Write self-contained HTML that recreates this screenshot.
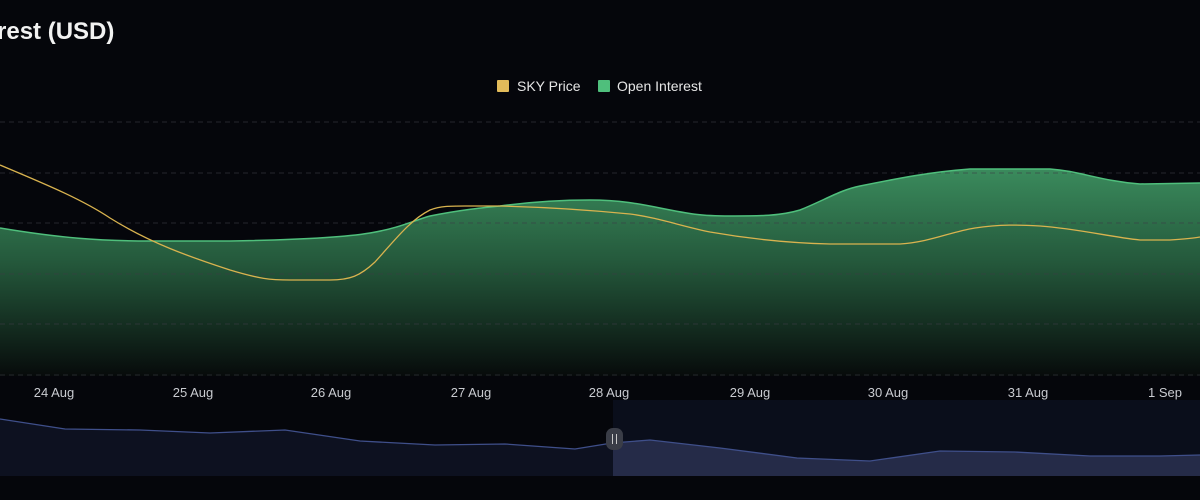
<!DOCTYPE html>
<html><head><meta charset="utf-8"><style>
html,body{margin:0;padding:0;background:#05060b;width:1200px;height:500px;overflow:hidden}
svg{display:block}
</style></head><body>
<svg width="1200" height="500" viewBox="0 0 1200 500" xmlns="http://www.w3.org/2000/svg" font-family="Liberation Sans, sans-serif">
<defs>
<linearGradient id="ga" gradientUnits="userSpaceOnUse" x1="0" y1="170" x2="0" y2="376">
<stop offset="0" stop-color="#3a8a5c"/>
<stop offset="0.45" stop-color="#24583b"/>
<stop offset="1" stop-color="#070b0b"/>
</linearGradient>
</defs>
<rect width="1200" height="500" fill="#05060b"/>
<text x="-3" y="39" fill="#f2f2f2" font-size="24" font-weight="bold">rest (USD)</text>
<rect x="497" y="80" width="12" height="12" fill="#e2bb5a" rx="1"/>
<text x="517" y="91" fill="#e6e6e6" font-size="14">SKY Price</text>
<rect x="598" y="80" width="12" height="12" fill="#4fbf7c" rx="1"/>
<text x="617" y="91" fill="#e6e6e6" font-size="14">Open Interest</text>
<path d="M0,228 C60,238 100,241 150,241 L230,241 C290,240 340,238 370,233 C400,228 415,220 430,216 C460,210 480,208 500,206 C530,202 560,200 590,200 C620,200 640,204 660,208 C690,214 700,216 730,216 C760,216 780,216 800,210 C825,200 840,190 860,186 C900,178 930,172 970,169 L1050,169 C1080,171 1100,181 1140,184 L1200,183 L1200,376 L0,376 Z" fill="url(#ga)"/>
<g stroke="#3a3c44" stroke-opacity="0.6" stroke-width="1" stroke-dasharray="5,4">
<line x1="0" y1="122" x2="1200" y2="122"/>
<line x1="0" y1="173" x2="1200" y2="173"/>
<line x1="0" y1="223" x2="1200" y2="223"/>
<line x1="0" y1="274" x2="1200" y2="274"/>
<line x1="0" y1="324" x2="1200" y2="324"/>
<line x1="0" y1="375" x2="1200" y2="375"/>
</g>
<path d="M0,228 C60,238 100,241 150,241 L230,241 C290,240 340,238 370,233 C400,228 415,220 430,216 C460,210 480,208 500,206 C530,202 560,200 590,200 C620,200 640,204 660,208 C690,214 700,216 730,216 C760,216 780,216 800,210 C825,200 840,190 860,186 C900,178 930,172 970,169 L1050,169 C1080,171 1100,181 1140,184 L1200,183" fill="none" stroke="#4fbf7c" stroke-width="1.5"/>
<path d="M0,165 C40,182 80,198 110,218 C150,243 190,257 230,270 C260,279 270,280 290,280 L330,280 C350,280 360,276 375,262 C395,240 410,220 430,210 C440,206 450,206 465,206 L500,206 C540,207 590,210 630,214 C660,218 680,226 710,232 C750,239 790,243 830,244 L900,244 C930,242 950,232 975,228 C1000,224 1020,225 1040,226 C1080,229 1110,237 1140,240 L1170,240 C1185,239 1195,238 1200,237" fill="none" stroke="#d9b34f" stroke-width="1.3"/>
<g fill="#c9cbd0" font-size="13" text-anchor="middle">
<text x="54" y="397">24 Aug</text><text x="193" y="397">25 Aug</text><text x="331" y="397">26 Aug</text>
<text x="471" y="397">27 Aug</text><text x="609" y="397">28 Aug</text><text x="750" y="397">29 Aug</text>
<text x="888" y="397">30 Aug</text><text x="1028" y="397">31 Aug</text><text x="1165" y="397">1 Sep</text>
</g>
<rect x="613" y="400" width="587" height="76" fill="#0a0e1b"/>
<clipPath id="L"><rect x="0" y="400" width="613" height="76"/></clipPath>
<clipPath id="R"><rect x="613" y="400" width="587" height="76"/></clipPath>
<path d="M0,419 L65,429 L140,430 L210,433 L285,430 L360,441 L435,445 L505,444 L575,449 L612,443 L650,440 L720,448 L797,458 L870,461 L940,451 L1015,452 L1090,456 L1160,456 L1200,455 L1200,476 L0,476 Z" fill="#0d1120" clip-path="url(#L)"/>
<path d="M0,419 L65,429 L140,430 L210,433 L285,430 L360,441 L435,445 L505,444 L575,449 L612,443 L650,440 L720,448 L797,458 L870,461 L940,451 L1015,452 L1090,456 L1160,456 L1200,455 L1200,476 L0,476 Z" fill="#252b48" clip-path="url(#R)"/>
<path d="M0,419 L65,429 L140,430 L210,433 L285,430 L360,441 L435,445 L505,444 L575,449 L612,443 L650,440 L720,448 L797,458 L870,461 L940,451 L1015,452 L1090,456 L1160,456 L1200,455" fill="none" stroke="#3f4f8a" stroke-width="1.3"/>
<rect x="606" y="428" width="17" height="22" rx="7" fill="#3a3d47"/>
<line x1="612.5" y1="434" x2="612.5" y2="444" stroke="#c8c8c8" stroke-width="1"/>
<line x1="616.5" y1="434" x2="616.5" y2="444" stroke="#c8c8c8" stroke-width="1"/>
</svg>
</body></html>
